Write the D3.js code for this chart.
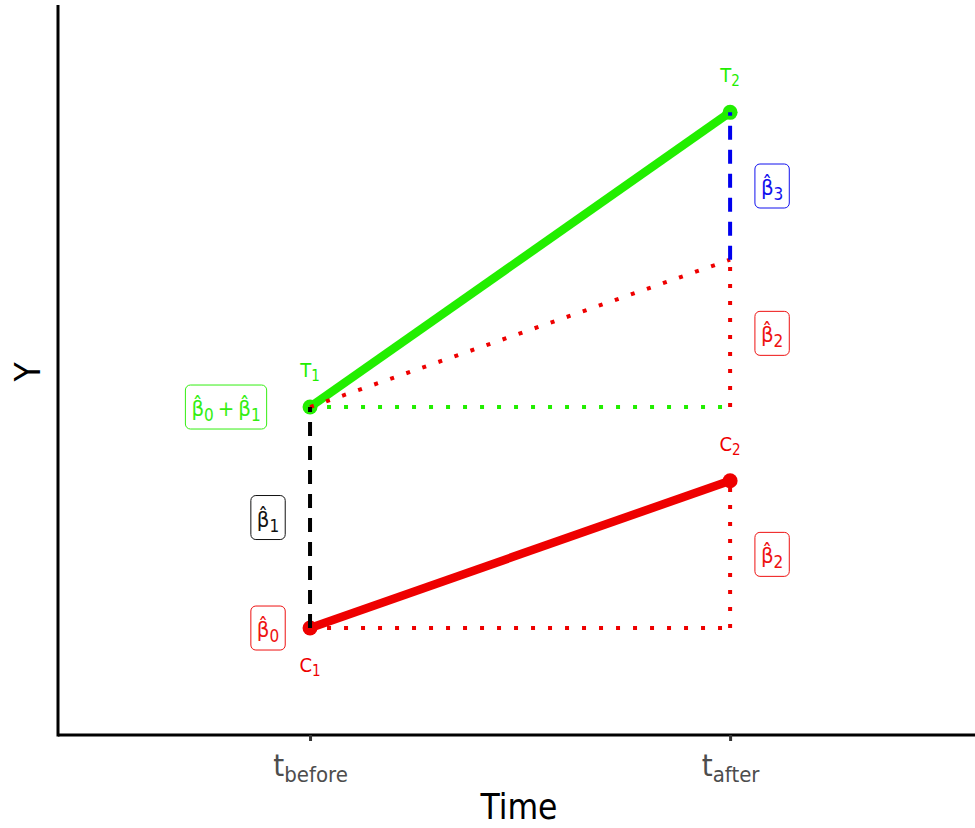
<!DOCTYPE html>
<html>
<head>
<meta charset="utf-8">
<script src="https://cdn.jsdelivr.net/npm/d3@7"></script>
<style>
  body { margin: 0; background: #fff; }
  svg { display: block; }
  text { font-family: "DejaVu Sans Condensed", "Liberation Sans Narrow", "Open Sans", "Noto Sans", sans-serif; font-stretch: condensed; }
</style>
</head>
<body>
<svg id="chart" width="975" height="828"></svg>
<script>
// Time periods and group outcomes
const periods = [0, 1];
const periodLabels = [["t", "before"], ["t", "after"]];
const treated = [5, 9];
const control = [2, 4];
const counterfactual = [5, 7];

// Point labels
const pointLabels = [
  { x: 0, y: 5, main: "T", sub: "1", color: "#22ee00", dy: -37 },
  { x: 1, y: 9, main: "T", sub: "2", color: "#22ee00", dy: -37 },
  { x: 0, y: 2, main: "C", sub: "1", color: "#ee0000", dy: 37 },
  { x: 1, y: 4, main: "C", sub: "2", color: "#ee0000", dy: -37 }
];

// Coefficient boxes: position in data units and the beta indices they show
const coefBoxes = [
  { x: -0.2, y: 5, terms: ["0", "1"], color: "#33ee11" },
  { x: -0.1, y: 3.5, terms: ["1"], color: "#111111" },
  { x: -0.1, y: 2, terms: ["0"], color: "#ee1111" },
  { x: 1.1, y: 8, terms: ["3"], color: "#1111ee" },
  { x: 1.1, y: 6, terms: ["2"], color: "#ee1111" },
  { x: 1.1, y: 3, terms: ["2"], color: "#ee1111" }
];

const svg = d3.select("#chart");
const x = d3.scaleLinear().domain([-0.6, 1.583]).range([58, 975]);
const y = d3.scaleLinear().domain([0.548, 10.457]).range([735, 5]);

// Axes
const xAxis = d3.axisBottom(x).tickValues(periods).tickSize(6).tickSizeOuter(0).tickFormat("");
const gx = svg.append("g").attr("transform", "translate(0,735)").call(xAxis);
gx.select(".domain").attr("stroke", "#000").attr("stroke-width", 3).attr("d", "M58,0H975");
gx.selectAll(".tick line").attr("stroke", "#333").attr("stroke-width", 3);
gx.selectAll(".tick").each(function(d, i) {
  const t = d3.select(this).append("text")
    .attr("y", 41).attr("text-anchor", "middle").attr("fill", "#4d4d4d")
    .style("font-size", "31px");
  t.append("tspan").text(periodLabels[i][0]);
  t.append("tspan").attr("dy", 6).style("font-size", "22px").text(periodLabels[i][1]);
});
svg.append("line").attr("x1", 58).attr("x2", 58).attr("y1", 5).attr("y2", 736.5)
  .attr("stroke", "#000").attr("stroke-width", 3);

svg.append("text").attr("x", 519).attr("y", 819).attr("text-anchor", "middle")
  .style("font-size", "35px").attr("fill", "#000").text("Time");
svg.append("text").attr("transform", "translate(40,372) rotate(-90)").attr("text-anchor", "middle")
  .style("font-size", "35px").attr("fill", "#000").text("Y");

// Group lines and points
const line = d3.line().x((d, i) => x(periods[i])).y(d => y(d));
[[treated, "#22ee00"], [control, "#ee0000"]].forEach(([vals, col]) => {
  svg.append("path").attr("d", line(vals)).attr("fill", "none")
    .attr("stroke", col).attr("stroke-width", 8.5).attr("stroke-linecap", "butt");
  svg.selectAll(null).data(vals).enter().append("circle")
    .attr("cx", (d, i) => x(periods[i])).attr("cy", d => y(d)).attr("r", 7.5).attr("fill", col);
});

// Reference segments
const dot = "4,13", dash = "14,10";
const segs = [
  { x1: 0, y1: 5, x2: 1, y2: 5, color: "#22ee00", dash: dot },
  { x1: 0, y1: 2, x2: 1, y2: 2, color: "#ee0000", dash: dot },
  { x1: 0, y1: counterfactual[0], x2: 1, y2: counterfactual[1], color: "#ee0000", dash: dot },
  { x1: 1, y1: 5, x2: 1, y2: 7, color: "#ee0000", dash: dot },
  { x1: 1, y1: 2, x2: 1, y2: 4, color: "#ee0000", dash: dot },
  { x1: 0, y1: 2, x2: 0, y2: 5, color: "#000000", dash: dash },
  { x1: 1, y1: 7, x2: 1, y2: 9, color: "#0000ee", dash: dash }
];
svg.selectAll(null).data(segs).enter().append("line")
  .attr("x1", d => x(d.x1)).attr("y1", d => y(d.y1))
  .attr("x2", d => x(d.x2)).attr("y2", d => y(d.y2))
  .attr("stroke", d => d.color).attr("stroke-width", 4)
  .attr("stroke-dasharray", d => d.dash);

// Point labels
pointLabels.forEach(p => {
  const t = svg.append("text").attr("x", x(p.x)).attr("y", y(p.y) + p.dy + 7)
    .attr("text-anchor", "middle").attr("fill", p.color).style("font-size", "20px");
  t.append("tspan").text(p.main);
  t.append("tspan").attr("dy", 4).style("font-size", "15px").text(p.sub);
});

// Coefficient label boxes
coefBoxes.forEach(b => {
  const g = svg.append("g").attr("transform", `translate(${x(b.x)},${y(b.y)})`);
  const t = g.append("text").attr("y", 9).attr("text-anchor", "middle")
    .attr("fill", b.color).style("font-size", "22px");
  b.terms.forEach((k, i) => {
    if (i > 0) t.append("tspan").attr("dy", -5).text("\u2009+\u2009");
    t.append("tspan").text("\u03B2\u0302");
    t.append("tspan").attr("dy", 5).style("font-size", "17px").text(k);
  });
  const bb = t.node().getBBox();
  g.insert("rect", "text")
    .attr("x", bb.x - 6).attr("y", -22).attr("width", bb.width + 12).attr("height", 44)
    .attr("rx", 5).attr("fill", "#fff").attr("stroke", b.color).attr("stroke-width", 1);
});
</script>
</body>
</html>
